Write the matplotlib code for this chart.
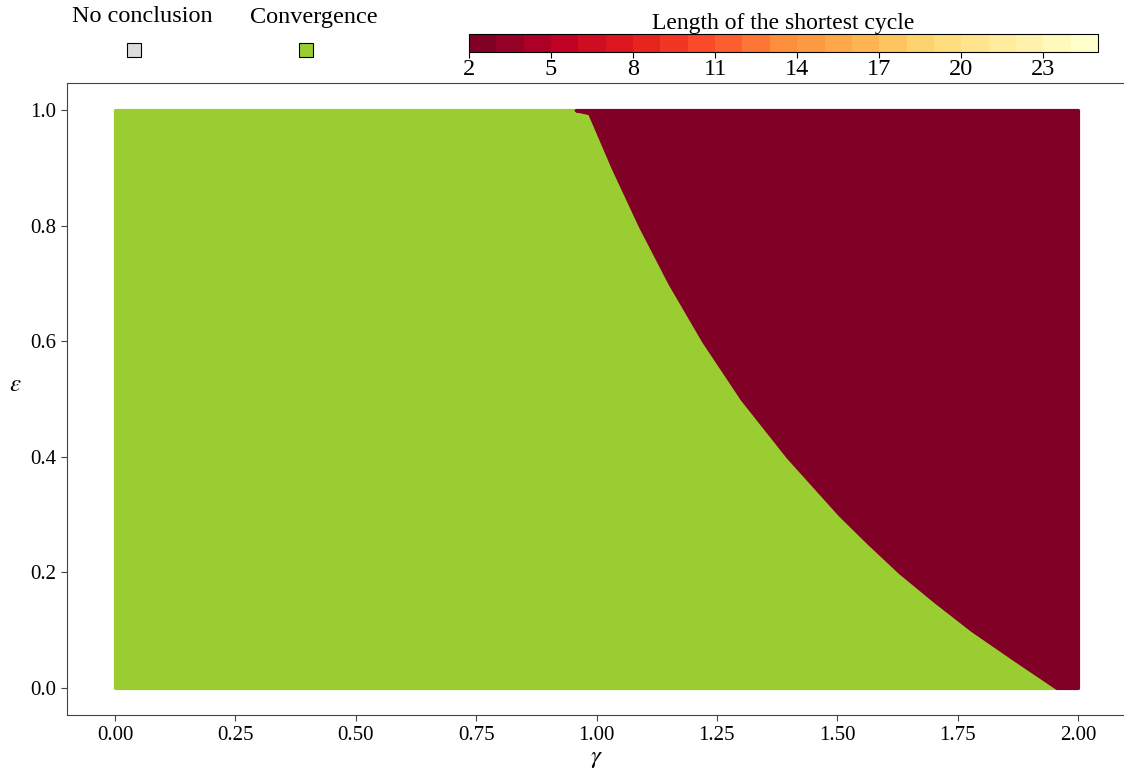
import numpy as np
import matplotlib
matplotlib.use('Agg')
import matplotlib.pyplot as plt
from matplotlib.colors import ListedColormap, BoundaryNorm
from matplotlib.cm import ScalarMappable
from matplotlib.lines import Line2D

plt.rcParams['font.family'] = ['Liberation Serif', 'DejaVu Serif']
plt.rcParams['mathtext.fontset'] = 'stix'
plt.rcParams['font.size'] = 15

# Boundary between convergence (left) and 2-cycles (right).
eps_b = [1.000, 0.995, 0.931, 0.900, 0.800, 0.700, 0.600, 0.500,
         0.400, 0.300, 0.250, 0.200, 0.150, 0.100, 0.050, 0.000]
gamma_b = [0.957, 0.985, 1.018, 1.034, 1.090, 1.152, 1.222, 1.302,
           1.397, 1.505, 1.566, 1.630, 1.703, 1.780, 1.867, 1.956]
gamma_range = [0.0, 2.0]

cycle_bounds = list(range(2, 26))
cycle_ticks = [2, 5, 8, 11, 14, 17, 20, 23]
xticks = [0.0, 0.25, 0.5, 0.75, 1.0, 1.25, 1.5, 1.75, 2.0]
yticks = [0.0, 0.2, 0.4, 0.6, 0.8, 1.0]

legend_labels = ['No conclusion', 'Convergence']
legend_colors = ['#dcdcdc', '#9acd32']

W, H = 1124, 774
fig = plt.figure(figsize=(W / 100, H / 100), dpi=100)

ax = fig.add_axes([67 / W, (H - 715) / H, (1126 - 67) / W, (715 - 83) / H])

cmap = ListedColormap(plt.get_cmap('YlOrRd_r')(np.linspace(0, 1, len(cycle_bounds) - 1)))
norm = BoundaryNorm(cycle_bounds, cmap.N)
red = cmap(norm(2))

ax.fill_betweenx(eps_b, gamma_range[0], gamma_b, color=legend_colors[1],
                 lw=2.5, joinstyle='round', zorder=2)
ax.fill_betweenx(eps_b, gamma_b, gamma_range[1], color=red,
                 lw=2.5, joinstyle='round', zorder=3)

ax.set_xlim(-0.1, 2.1)
ax.set_ylim(-0.047, 1.047)
ax.set_xticks(xticks)
ax.set_xticklabels(['%.2f' % v for v in xticks])
ax.set_yticks(yticks)
ax.set_yticklabels(['%.1f' % v for v in yticks])
ax.spines['right'].set_visible(False)
for s in ['left', 'bottom', 'top']:
    ax.spines[s].set_color('#444444')
ax.tick_params(length=4, color='#444444', pad=4)
ax.set_xlabel(r'$\gamma$', fontsize=18, labelpad=2)
ax.set_ylabel(r'$\varepsilon$', fontsize=18, rotation=0, va='center', ha='center')
ax.yaxis.set_label_coords(-0.049, 0.522)

# colour bar on top
cax = fig.add_axes([469 / W, (H - 52) / H, (1098 - 469) / W, 18 / H])
cb = fig.colorbar(ScalarMappable(norm=norm, cmap=cmap), cax=cax,
                  orientation='horizontal', ticks=cycle_ticks)
cb.minorticks_off()
cb.outline.set_linewidth(0.8)
cax.tick_params(length=4, pad=1, labelsize=17.5)
cax.set_title('Length of the shortest cycle', fontsize=17, pad=1)

# legend: labels above the square markers
for lab, col, tx, mx in zip(legend_labels, legend_colors, [142, 314], [133.5, 305.5]):
    fig.text(tx / W, 1 - 17 / H, lab, ha='center', va='center', fontsize=17.5)
    fig.add_artist(Line2D([mx / W], [1 - 50 / H], marker='s', markersize=10.5,
                          markerfacecolor=col, markeredgecolor='black',
                          markeredgewidth=0.8, transform=fig.transFigure))

fig.savefig('out.png', dpi=100)
